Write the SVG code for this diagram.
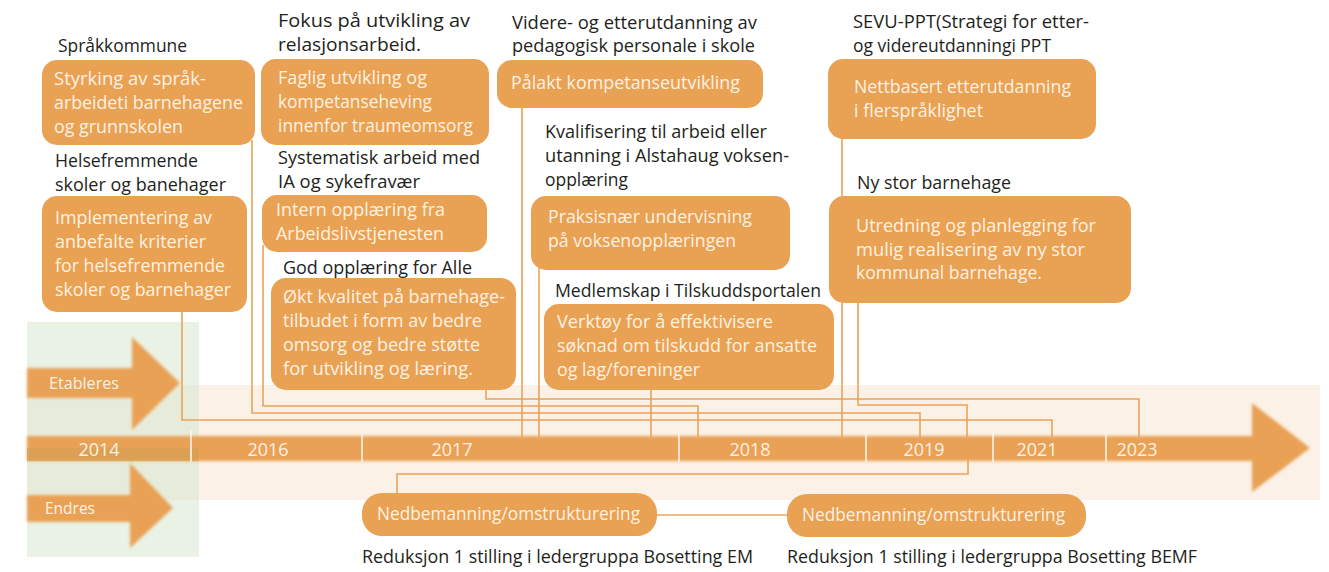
<svg xmlns="http://www.w3.org/2000/svg" width="1329" height="572" viewBox="0 0 1329 572">
<defs>
<filter id="soft" x="-10%" y="-10%" width="120%" height="120%"><feGaussianBlur stdDeviation="1.6"/></filter>
<style>
.box{fill:#e9a154}
.bt{font-family:"Open Sans","Noto Sans",sans-serif;font-size:18px;fill:#fdf1e3}
.lb{font-family:"Open Sans","Noto Sans",sans-serif;font-size:18px;fill:#231f20}
.yr{font-family:"Open Sans","Noto Sans",sans-serif;font-size:18px;fill:#fdf1e3;text-anchor:middle}
.ar{font-family:"Open Sans","Noto Sans",sans-serif;font-size:16px;fill:#fdf1e3}
.cn{fill:none;stroke:#eaa35a;stroke-width:1.6}
.tk{stroke:#fdf4ea;stroke-width:1.6}
</style>
</defs>
<rect width="1329" height="572" fill="#ffffff"/>
<g id="background">
<rect x="27" y="385" width="1293" height="115" fill="#fbf1e6"/>
<rect x="27" y="322" width="172" height="235" fill="#d7e8d0" opacity="0.55"/>
</g>
<g id="connectors">
<polyline class="cn" points="182,300 182,420 1052,420 1052,437"/>
<polyline class="cn" points="252,140 252,413 920,413 920,437"/>
<polyline class="cn" points="263,245 263,406 698,406 698,437"/>
<polyline class="cn" points="486,385 486,399 1139,399 1139,437"/>
<polyline class="cn" points="522,100 522,437"/>
<polyline class="cn" points="539,265 539,437"/>
<polyline class="cn" points="651,385 651,437"/>
<polyline class="cn" points="842,135 842,437"/>
<polyline class="cn" points="858,298 858,405 967,405 967,437"/>
<polyline class="cn" points="397,494 397,474 968,474 968,460"/>
<line class="cn" x1="650" y1="515" x2="795" y2="515"/>
</g>
<g id="timeline">
<g filter="url(#soft)">
<rect x="27" y="436" width="1228" height="25" fill="#e9a154"/>
<polygon points="1252,403 1310,448 1252,492" fill="#e9a154"/>
</g>
<rect x="27" y="448" width="172" height="13" fill="#d49f52" opacity="0.7"/>
<line class="tk" x1="191" y1="430" x2="191" y2="462"/>
<line class="tk" x1="362" y1="430" x2="362" y2="462"/>
<line class="tk" x1="679" y1="430" x2="679" y2="462"/>
<line class="tk" x1="866" y1="430" x2="866" y2="462"/>
<line class="tk" x1="993" y1="430" x2="993" y2="462"/>
<line class="tk" x1="1106" y1="430" x2="1106" y2="462"/>
<text class="yr" x="99" y="456">2014</text>
<text class="yr" x="268" y="456">2016</text>
<text class="yr" x="452" y="456">2017</text>
<text class="yr" x="750" y="456">2018</text>
<text class="yr" x="924" y="456">2019</text>
<text class="yr" x="1037" y="456">2021</text>
<text class="yr" x="1137" y="456">2023</text>
</g>
<g id="etableres">
<g filter="url(#soft)">
<polygon points="27,368 132,368 132,337 180,383 132,430 132,398 27,398" fill="#e9a154"/>
</g>
<text class="ar" x="49" y="389" textLength="70" lengthAdjust="spacingAndGlyphs">Etableres</text>
</g>
<g id="endres">
<g filter="url(#soft)">
<polygon points="27,495 130,495 130,463 173,508 130,548 130,522 27,522" fill="#e9a154"/>
</g>
<text class="ar" x="45" y="514" textLength="50" lengthAdjust="spacingAndGlyphs">Endres</text>
</g>
<g id="sprakkommune">
<text class="lb" x="58" y="52" textLength="129" lengthAdjust="spacingAndGlyphs">Språkkommune</text>
<rect class="box" x="42" y="60" width="213" height="85" rx="15"/>
<text class="bt" x="54" y="85" textLength="152" lengthAdjust="spacingAndGlyphs">Styrking av språk-</text>
<text class="bt" x="54" y="109" textLength="189" lengthAdjust="spacingAndGlyphs">arbeideti barnehagene</text>
<text class="bt" x="54" y="133" textLength="129" lengthAdjust="spacingAndGlyphs">og grunnskolen</text>
</g>
<g id="helsefremmende">
<text class="lb" x="55" y="167" textLength="143" lengthAdjust="spacingAndGlyphs">Helsefremmende</text>
<text class="lb" x="55" y="191" textLength="171" lengthAdjust="spacingAndGlyphs">skoler og banehager</text>
<rect class="box" x="42" y="196" width="205" height="116" rx="15"/>
<text class="bt" x="55" y="224" textLength="157" lengthAdjust="spacingAndGlyphs">Implementering av</text>
<text class="bt" x="55" y="248" textLength="151" lengthAdjust="spacingAndGlyphs">anbefalte kriterier</text>
<text class="bt" x="55" y="272" textLength="170" lengthAdjust="spacingAndGlyphs">for helsefremmende</text>
<text class="bt" x="55" y="296" textLength="176" lengthAdjust="spacingAndGlyphs">skoler og barnehager</text>
</g>
<g id="relasjonsarbeid">
<text class="lb" x="278" y="27" textLength="192" lengthAdjust="spacingAndGlyphs">Fokus på utvikling av</text>
<text class="lb" x="278" y="51" textLength="143" lengthAdjust="spacingAndGlyphs">relasjonsarbeid.</text>
<rect class="box" x="261" y="59" width="228" height="86" rx="15"/>
<text class="bt" x="278" y="84" textLength="149" lengthAdjust="spacingAndGlyphs">Faglig utvikling og</text>
<text class="bt" x="278" y="108" textLength="154" lengthAdjust="spacingAndGlyphs">kompetanseheving</text>
<text class="bt" x="278" y="132" textLength="195" lengthAdjust="spacingAndGlyphs">innenfor traumeomsorg</text>
</g>
<g id="sykefravaer">
<text class="lb" x="278" y="164" textLength="202" lengthAdjust="spacingAndGlyphs">Systematisk arbeid med</text>
<text class="lb" x="278" y="188" textLength="142" lengthAdjust="spacingAndGlyphs">IA og sykefravær</text>
<rect class="box" x="262" y="195" width="225" height="57" rx="15"/>
<text class="bt" x="276" y="216" textLength="169" lengthAdjust="spacingAndGlyphs">Intern opplæring fra</text>
<text class="bt" x="276" y="240" textLength="168" lengthAdjust="spacingAndGlyphs">Arbeidslivstjenesten</text>
</g>
<g id="god-opplaering">
<text class="lb" x="283" y="274" textLength="189" lengthAdjust="spacingAndGlyphs">God opplæring for Alle</text>
<rect class="box" x="271" y="278" width="245" height="112" rx="15"/>
<text class="bt" x="283" y="303" textLength="222" lengthAdjust="spacingAndGlyphs">Økt kvalitet på barnehage-</text>
<text class="bt" x="283" y="327" textLength="199" lengthAdjust="spacingAndGlyphs">tilbudet i form av bedre</text>
<text class="bt" x="283" y="351" textLength="197" lengthAdjust="spacingAndGlyphs">omsorg og bedre støtte</text>
<text class="bt" x="283" y="375" textLength="190" lengthAdjust="spacingAndGlyphs">for utvikling og læring.</text>
</g>
<g id="videreutdanning">
<text class="lb" x="512" y="29" textLength="245" lengthAdjust="spacingAndGlyphs">Videre- og etterutdanning av</text>
<text class="lb" x="512" y="52" textLength="243" lengthAdjust="spacingAndGlyphs">pedagogisk personale i skole</text>
<rect class="box" x="497" y="60" width="266" height="48" rx="15"/>
<text class="bt" x="511" y="89" textLength="229" lengthAdjust="spacingAndGlyphs">Pålakt kompetanseutvikling</text>
</g>
<g id="kvalifisering">
<text class="lb" x="545" y="138" textLength="222" lengthAdjust="spacingAndGlyphs">Kvalifisering til arbeid eller</text>
<text class="lb" x="545" y="162" textLength="244" lengthAdjust="spacingAndGlyphs">utanning i Alstahaug voksen-</text>
<text class="lb" x="545" y="186" textLength="83" lengthAdjust="spacingAndGlyphs">opplæring</text>
<rect class="box" x="531" y="196" width="259" height="74" rx="15"/>
<text class="bt" x="548" y="223" textLength="204" lengthAdjust="spacingAndGlyphs">Praksisnær undervisning</text>
<text class="bt" x="548" y="247" textLength="188" lengthAdjust="spacingAndGlyphs">på voksenopplæringen</text>
</g>
<g id="tilskuddsportalen">
<text class="lb" x="555" y="297" textLength="266" lengthAdjust="spacingAndGlyphs">Medlemskap i Tilskuddsportalen</text>
<rect class="box" x="544" y="304" width="290" height="86" rx="15"/>
<text class="bt" x="557" y="328" textLength="216" lengthAdjust="spacingAndGlyphs">Verktøy for å effektivisere</text>
<text class="bt" x="557" y="352" textLength="260" lengthAdjust="spacingAndGlyphs">søknad om tilskudd for ansatte</text>
<text class="bt" x="557" y="376" textLength="143" lengthAdjust="spacingAndGlyphs">og lag/foreninger</text>
</g>
<g id="sevu-ppt">
<text class="lb" x="853" y="28" textLength="236" lengthAdjust="spacingAndGlyphs">SEVU-PPT(Strategi for etter-</text>
<text class="lb" x="853" y="52" textLength="198" lengthAdjust="spacingAndGlyphs">og videreutdanningi PPT</text>
<rect class="box" x="828" y="59" width="268" height="80" rx="15"/>
<text class="bt" x="854" y="93" textLength="217" lengthAdjust="spacingAndGlyphs">Nettbasert etterutdanning</text>
<text class="bt" x="854" y="117" textLength="129" lengthAdjust="spacingAndGlyphs">i flerspråklighet</text>
</g>
<g id="ny-barnehage">
<text class="lb" x="857" y="189" textLength="154" lengthAdjust="spacingAndGlyphs">Ny stor barnehage</text>
<rect class="box" x="829" y="196" width="302" height="107" rx="15"/>
<text class="bt" x="856" y="232" textLength="240" lengthAdjust="spacingAndGlyphs">Utredning og planlegging for</text>
<text class="bt" x="856" y="256" textLength="229" lengthAdjust="spacingAndGlyphs">mulig realisering av ny stor</text>
<text class="bt" x="856" y="279" textLength="186" lengthAdjust="spacingAndGlyphs">kommunal barnehage.</text>
</g>
<g id="nedbemanning-em">
<rect class="box" x="362" y="493" width="295" height="43" rx="20"/>
<text class="bt" x="377" y="520" textLength="263" lengthAdjust="spacingAndGlyphs">Nedbemanning/omstrukturering</text>
<text class="lb" x="362" y="563" textLength="391" lengthAdjust="spacingAndGlyphs">Reduksjon 1 stilling i ledergruppa Bosetting EM</text>
</g>
<g id="nedbemanning-bemf">
<rect class="box" x="787" y="494" width="299" height="43" rx="20"/>
<text class="bt" x="802" y="521" textLength="263" lengthAdjust="spacingAndGlyphs">Nedbemanning/omstrukturering</text>
<text class="lb" x="787" y="563" textLength="410" lengthAdjust="spacingAndGlyphs">Reduksjon 1 stilling i ledergruppa Bosetting BEMF</text>
</g>
</svg>
